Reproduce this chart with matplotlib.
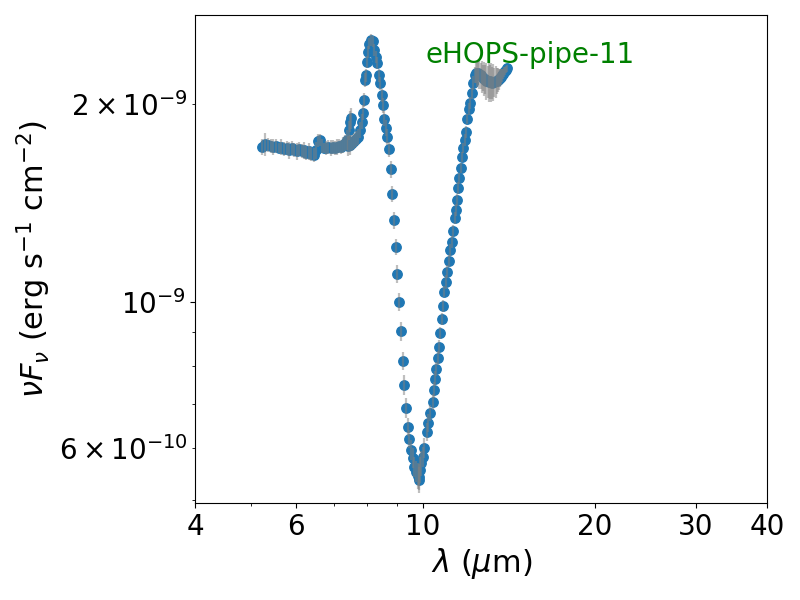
import numpy as np
import matplotlib
matplotlib.use('Agg')
import matplotlib.pyplot as plt
from matplotlib.ticker import NullFormatter

# spectrum, wavelength in micron, nuFnu in 1e-9 erg/s/cm2
# short-wavelength order (plateau)
lam_sl2 = [5.24, 5.30, 5.36, 5.42, 5.48, 5.54, 5.60, 5.66, 5.72, 5.78,
	5.84, 5.90, 5.96, 6.02, 6.08, 6.14, 6.20, 6.26, 6.32, 6.38,
	6.44, 6.50, 6.55, 6.60, 6.66, 6.72, 6.78, 6.84, 6.90, 6.96,
	7.02, 7.08, 7.14, 7.20, 7.26, 7.32, 7.38, 7.42, 7.46, 7.50]
flux_sl2 = [1.720, 1.738, 1.732, 1.726, 1.720, 1.726, 1.714, 1.720, 1.708, 1.714,
	1.702, 1.714, 1.702, 1.696, 1.708, 1.696, 1.702, 1.685, 1.696, 1.679,
	1.673, 1.702, 1.757, 1.763, 1.726, 1.714, 1.714, 1.720, 1.714, 1.720,
	1.714, 1.720, 1.726, 1.720, 1.732, 1.745, 1.763, 1.825, 1.880, 1.904]
err_sl2 = [0.05, 0.07, 0.04, 0.04, 0.05, 0.04, 0.03, 0.05, 0.04, 0.04,
	0.05, 0.04, 0.04, 0.05, 0.04, 0.04, 0.05, 0.04, 0.05, 0.04,
	0.04, 0.05, 0.04, 0.04, 0.04, 0.03, 0.04, 0.04, 0.05, 0.04,
	0.04, 0.05, 0.04, 0.04, 0.05, 0.05, 0.06, 0.06, 0.07, 0.07]

# long-wavelength order (silicate feature)
lam_sl1 = [7.40, 7.46, 7.52, 7.58, 7.64, 7.71, 7.77, 7.83, 7.86, 7.89,
	7.93, 7.95, 7.99, 8.02, 8.06, 8.11, 8.17, 8.22, 8.27, 8.32,
	8.37, 8.42, 8.47, 8.52, 8.57, 8.62, 8.67, 8.72, 8.78, 8.85,
	8.90, 8.96, 9.03, 9.09, 9.16, 9.23, 9.28, 9.35, 9.41, 9.47,
	9.53, 9.60, 9.66, 9.73, 9.79, 9.83, 9.86, 9.89, 9.93, 10.00,
	10.06, 10.17, 10.23, 10.30, 10.40, 10.44, 10.50, 10.56, 10.61, 10.67,
	10.72, 10.79, 10.84, 10.90, 10.97, 11.03, 11.10, 11.17, 11.23, 11.30,
	11.37, 11.43, 11.49, 11.54, 11.59, 11.64, 11.71, 11.77, 11.84, 11.91,
	11.97, 12.04, 12.10, 12.17, 12.24, 12.32, 12.38, 12.44, 12.50, 12.56,
	12.62, 12.68, 12.74, 12.80, 12.86, 12.92, 12.98, 13.04, 13.10, 13.16,
	13.22, 13.28, 13.34, 13.40, 13.46, 13.52, 13.58, 13.64, 13.70, 13.76,
	13.82, 13.88, 13.94, 14.00, 14.06]
flux_sl1 = [1.726, 1.732, 1.745, 1.757, 1.770, 1.780, 1.825, 1.880, 1.940, 2.028,
	2.175, 2.213, 2.316, 2.400, 2.470, 2.500, 2.490, 2.415, 2.360, 2.310,
	2.210, 2.150, 2.060, 1.990, 1.900, 1.840, 1.780, 1.708, 1.590, 1.459,
	1.332, 1.212, 1.103, 1.000, 0.903, 0.813, 0.748, 0.690, 0.646, 0.619,
	0.596, 0.579, 0.561, 0.552, 0.544, 0.537, 0.542, 0.556, 0.569, 0.581,
	0.600, 0.634, 0.655, 0.678, 0.705, 0.735, 0.764, 0.791, 0.822, 0.854,
	0.897, 0.942, 0.986, 1.036, 1.072, 1.111, 1.154, 1.199, 1.234, 1.282,
	1.342, 1.380, 1.429, 1.490, 1.543, 1.598, 1.661, 1.714, 1.763, 1.813,
	1.897, 1.965, 2.006, 2.078, 2.152, 2.213, 2.228, 2.220, 2.230, 2.220,
	2.210, 2.200, 2.190, 2.185, 2.180, 2.170, 2.165, 2.160, 2.165, 2.160,
	2.155, 2.160, 2.160, 2.165, 2.170, 2.175, 2.180, 2.190, 2.200, 2.210,
	2.220, 2.235, 2.245, 2.255, 2.265]
err_sl1 = [0.06, 0.06, 0.05, 0.05, 0.05, 0.05, 0.05, 0.05, 0.05, 0.05,
	0.05, 0.05, 0.05, 0.05, 0.05, 0.05, 0.05, 0.05, 0.05, 0.05,
	0.05, 0.05, 0.05, 0.05, 0.05, 0.05, 0.05, 0.045, 0.045, 0.04,
	0.04, 0.035, 0.035, 0.03, 0.03, 0.025, 0.025, 0.025, 0.02, 0.02,
	0.02, 0.02, 0.02, 0.02, 0.025, 0.025, 0.025, 0.025, 0.025, 0.02,
	0.02, 0.02, 0.02, 0.02, 0.02, 0.02, 0.02, 0.02, 0.02, 0.02,
	0.02, 0.02, 0.02, 0.02, 0.025, 0.025, 0.025, 0.025, 0.025, 0.025,
	0.03, 0.03, 0.03, 0.03, 0.03, 0.03, 0.03, 0.03, 0.035, 0.035,
	0.035, 0.04, 0.04, 0.04, 0.05, 0.06, 0.08, 0.10, 0.09, 0.11,
	0.10, 0.12, 0.10, 0.13, 0.11, 0.14, 0.12, 0.15, 0.13, 0.15,
	0.12, 0.14, 0.11, 0.12, 0.10, 0.09, 0.08, 0.07, 0.06, 0.05,
	0.04, 0.04, 0.03, 0.03, 0.03]

x_ticks = [4, 6, 10, 20, 30, 40]
source_name = 'eHOPS-pipe-11'

lam = np.array(lam_sl2 + lam_sl1)
flux = np.array(flux_sl2 + flux_sl1) * 1e-9
err = np.array(err_sl2 + err_sl1) * 1e-9

fig = plt.figure(figsize=(8, 6), dpi=100)
ax = fig.add_axes([0.244, 0.162, 0.715, 0.813])

ax.scatter(lam, flux, s=46, color='tab:blue', zorder=2)
ax.errorbar(lam, flux, yerr=err, fmt='none', ecolor='gray', alpha=0.5, elinewidth=1.6, zorder=3)

ax.set_xscale('log')
ax.set_yscale('log')
ax.set_xlim(4, 40)
ax.set_ylim(4.95e-10, 2.73e-9)
ax.set_xticks(x_ticks)
ax.set_xticklabels([str(t) for t in x_ticks])
ax.xaxis.set_minor_formatter(NullFormatter())
ax.tick_params(axis='both', which='major', labelsize=20)
ax.tick_params(axis='y', which='minor', labelsize=20)

ax.set_xlabel(r'$\lambda$ ($\mu$m)', fontsize=22)
ax.set_ylabel(r'$\nu F_\nu$ (erg s$^{-1}$ cm$^{-2}$)', fontsize=22)

ax.text(0.402, 0.918, source_name, transform=ax.transAxes, color='green', fontsize=20, va='center', ha='left')

fig.savefig('out.png')
